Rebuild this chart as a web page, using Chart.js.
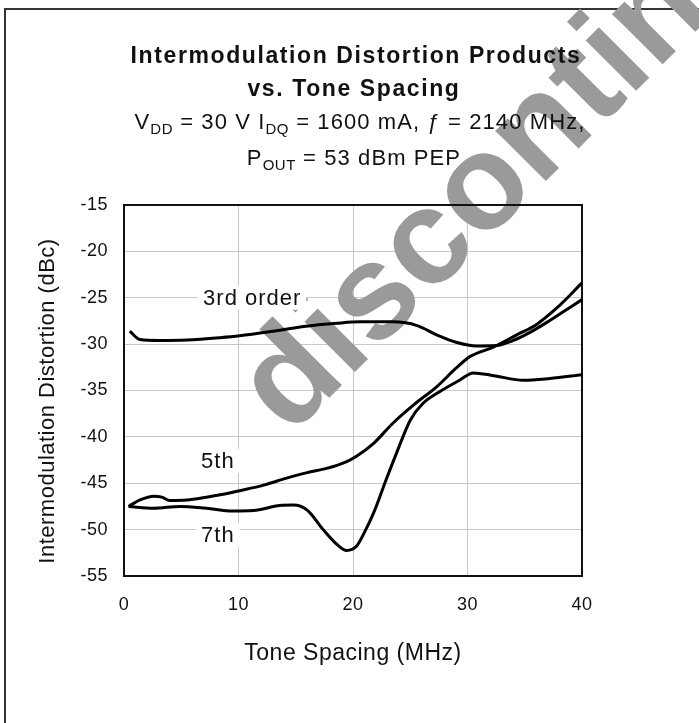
<!DOCTYPE html>
<html><head><meta charset="utf-8">
<script src="https://cdn.jsdelivr.net/npm/chart.js@4.4.1/dist/chart.umd.min.js"></script>
<style>html,body{margin:0;padding:0;background:#fff;}#wrap{position:relative;width:699px;height:723px;}</style>
</head><body><div id="wrap"><canvas id="c" width="699" height="723"></canvas></div>
<script>
// ---- data ----
const thirdX = [0.5, 1.4, 3.1, 5.5, 8.4, 10.1, 12.8, 15.7, 18.6, 20.6, 23.5, 25.6, 27.3, 29.0, 30.8, 32.5, 34.0, 35.5, 37.0, 38.5, 40.0];
const thirdY = [-28.6, -29.5, -29.6, -29.55, -29.3, -29.1, -28.65, -28.1, -27.75, -27.6, -27.6, -28.0, -29.0, -29.8, -30.2, -30.15, -29.6, -28.7, -27.6, -26.4, -25.2];
const fifthX = [0.4, 1.4, 2.6, 3.3, 4.0, 5.5, 7.2, 8.4, 10.1, 12.2, 14.2, 16.0, 17.7, 19.4, 20.3, 21.8, 23.5, 25.3, 27.3, 29.0, 30.2, 32.3, 34.3, 36.0, 37.8, 40.0];
const fifthY = [-47.5, -46.8, -46.4, -46.5, -46.85, -46.8, -46.5, -46.25, -45.8, -45.2, -44.45, -43.85, -43.4, -42.7, -42.1, -40.7, -38.5, -36.55, -34.6, -32.6, -31.35, -30.3, -29.0, -27.9, -26.1, -23.4];
const seventhX = [0.4, 2.6, 4.9, 7.2, 9.5, 11.3, 13.6, 14.8, 16.0, 17.4, 18.6, 19.45, 20.3, 21.0, 21.8, 22.9, 23.8, 25.0, 26.1, 27.6, 29.3, 30.5, 32.3, 34.9, 37.2, 40.0];
const seventhY = [-47.5, -47.7, -47.5, -47.7, -48.0, -47.95, -47.4, -47.35, -47.9, -50.0, -51.6, -52.25, -51.8, -50.3, -48.2, -44.6, -41.75, -38.2, -36.4, -35.1, -33.9, -33.1, -33.4, -33.9, -33.7, -33.3];
const seriesNames = ['3rd order', '5th', '7th'];
const labelX = [11.2, 8.2, 8.2];
const labelY = [-25.0, -42.6, -50.6];
const xTicks = [0, 10, 20, 30, 40];
const yTicks = [-15, -20, -25, -30, -35, -40, -45, -50, -55];
const titleLines = ['Intermodulation Distortion Products', 'vs. Tone Spacing'];
const xTitle = 'Tone Spacing (MHz)';
const yTitle = 'Intermodulation Distortion (dBc)';
const watermark = 'discontinued';

const FONT = '"Liberation Sans", Arial, Helvetica, sans-serif';
const zip = (xs, ys) => xs.map((x, i) => ({x, y: ys[i]}));

function drawRuns(ctx, runs, cx, by, size, spacing) {
  const subSize = Math.round(size * 0.68);
  let total = 0;
  const widths = runs.map(r => {
    ctx.font = (r.sub ? subSize : size) + 'px ' + FONT;
    ctx.letterSpacing = (r.sub ? 0.5 : spacing) + 'px';
    const w = ctx.measureText(r.t).width;
    total += w;
    return w;
  });
  let x = cx - total / 2;
  ctx.textAlign = 'left';
  ctx.textBaseline = 'alphabetic';
  runs.forEach((r, i) => {
    ctx.font = (r.sub ? subSize : size) + 'px ' + FONT;
    ctx.letterSpacing = (r.sub ? 0.5 : spacing) + 'px';
    ctx.fillText(r.t, x, by + (r.sub ? 5 : 0));
    x += widths[i];
  });
}

const decor = {
  id: 'decor',
  beforeDraw(chart) {
    const ctx = chart.ctx;
    ctx.letterSpacing = '0.5px';
    ctx.save();
    ctx.strokeStyle = '#333';
    ctx.lineWidth = 2;
    ctx.beginPath();
    ctx.moveTo(5, 723); ctx.lineTo(5, 9); ctx.lineTo(699, 9);
    ctx.stroke();
    ctx.restore();
  },
  beforeDatasetsDraw(chart) {
    const ctx = chart.ctx, a = chart.chartArea;
    ctx.save();
    ctx.translate(290, 437);
    ctx.rotate(-Math.PI / 4);
    ctx.font = 'bold 135px ' + FONT;
    ctx.letterSpacing = '0px';
    ctx.fillStyle = '#9a9a9a';
    ctx.textAlign = 'left';
    ctx.textBaseline = 'alphabetic';
    ctx.fillText(watermark, 0, 0);
    ctx.restore();
    ctx.save();
    ctx.strokeStyle = '#111';
    ctx.lineWidth = 2;
    ctx.strokeRect(a.left, a.top, a.right - a.left, a.bottom - a.top);
    ctx.restore();
  },
  afterDatasetsDraw(chart) {
    const ctx = chart.ctx;
    const xs = chart.scales.x, ys = chart.scales.y;
    ctx.save();
    ctx.fillStyle = '#111';
    ctx.textAlign = 'center';
    ctx.textBaseline = 'alphabetic';
    ctx.font = 'bold 23px ' + FONT;
    ctx.letterSpacing = '1.6px';
    ctx.fillText(titleLines[0], 356, 63);
    ctx.fillText(titleLines[1], 354, 96);
    drawRuns(ctx, [
      {t: 'V'}, {t: 'DD', sub: true}, {t: ' = 30 V I'}, {t: 'DQ', sub: true},
      {t: ' = 1600 mA, \u0192 = 2140 MHz,'}
    ], 360, 129, 22, 1.1);
    drawRuns(ctx, [{t: 'P'}, {t: 'OUT', sub: true}, {t: ' = 53 dBm PEP'}], 354, 165, 22, 1.1);
    // y axis title
    ctx.save();
    ctx.translate(48, 401);
    ctx.rotate(-Math.PI / 2);
    ctx.font = '22px ' + FONT;
    ctx.letterSpacing = '0.5px';
    ctx.textAlign = 'center';
    ctx.textBaseline = 'middle';
    ctx.fillStyle = '#111';
    ctx.fillText(yTitle, 0, 0);
    ctx.restore();
    // curve labels
    ctx.font = '22px ' + FONT;
    ctx.letterSpacing = '1px';
    ctx.textBaseline = 'middle';
    seriesNames.forEach((name, i) => {
      const px = xs.getPixelForValue(labelX[i]);
      const py = ys.getPixelForValue(labelY[i]);
      const w = ctx.measureText(name).width;
      ctx.fillStyle = '#fff';
      ctx.fillRect(px - w / 2 - 5, py - 12, w + 10, 24);
      ctx.fillStyle = '#111';
      ctx.textAlign = 'center';
      ctx.fillText(name, px, py + 1);
    });
    ctx.restore();
  }
};

const lineStyle = {
  showLine: true, pointRadius: 0, borderColor: '#000', borderWidth: 3,
  cubicInterpolationMode: 'monotone', fill: false
};

new Chart(document.getElementById('c'), {
  type: 'scatter',
  data: {
    datasets: [
      Object.assign({label: seriesNames[0], data: zip(thirdX, thirdY)}, lineStyle),
      Object.assign({label: seriesNames[1], data: zip(fifthX, fifthY)}, lineStyle),
      Object.assign({label: seriesNames[2], data: zip(seventhX, seventhY)}, lineStyle)
    ]
  },
  options: {
    responsive: false, animation: false, devicePixelRatio: 1,
    layout: {padding: {left: 0, top: 205, right: 117, bottom: 56}},
    plugins: {legend: {display: false}, tooltip: {enabled: false}, title: {display: false}},
    scales: {
      x: {
        type: 'linear', min: xTicks[0], max: xTicks[xTicks.length - 1],
        afterBuildTicks: s => { s.ticks = xTicks.map(v => ({value: v})); },
        afterFit: s => { s.height = 91; },
        ticks: {font: {family: FONT, size: 18}, color: '#111', padding: 18, maxRotation: 0},
        grid: {color: '#c8c8c8', lineWidth: 1, drawTicks: false},
        border: {display: false},
        title: {display: true, text: xTitle, color: '#111', font: {family: FONT, size: 23}, padding: 0}
      },
      y: {
        type: 'linear', min: yTicks[yTicks.length - 1], max: yTicks[0],
        afterBuildTicks: s => { s.ticks = yTicks.slice().reverse().map(v => ({value: v})); },
        afterFit: s => { s.width = 124; },
        ticks: {font: {family: FONT, size: 18}, color: '#111', padding: 16},
        grid: {color: '#c8c8c8', lineWidth: 1, drawTicks: false},
        border: {display: false},
        title: {display: false, text: yTitle}
      }
    }
  },
  plugins: [decor]
});
</script></body></html>
